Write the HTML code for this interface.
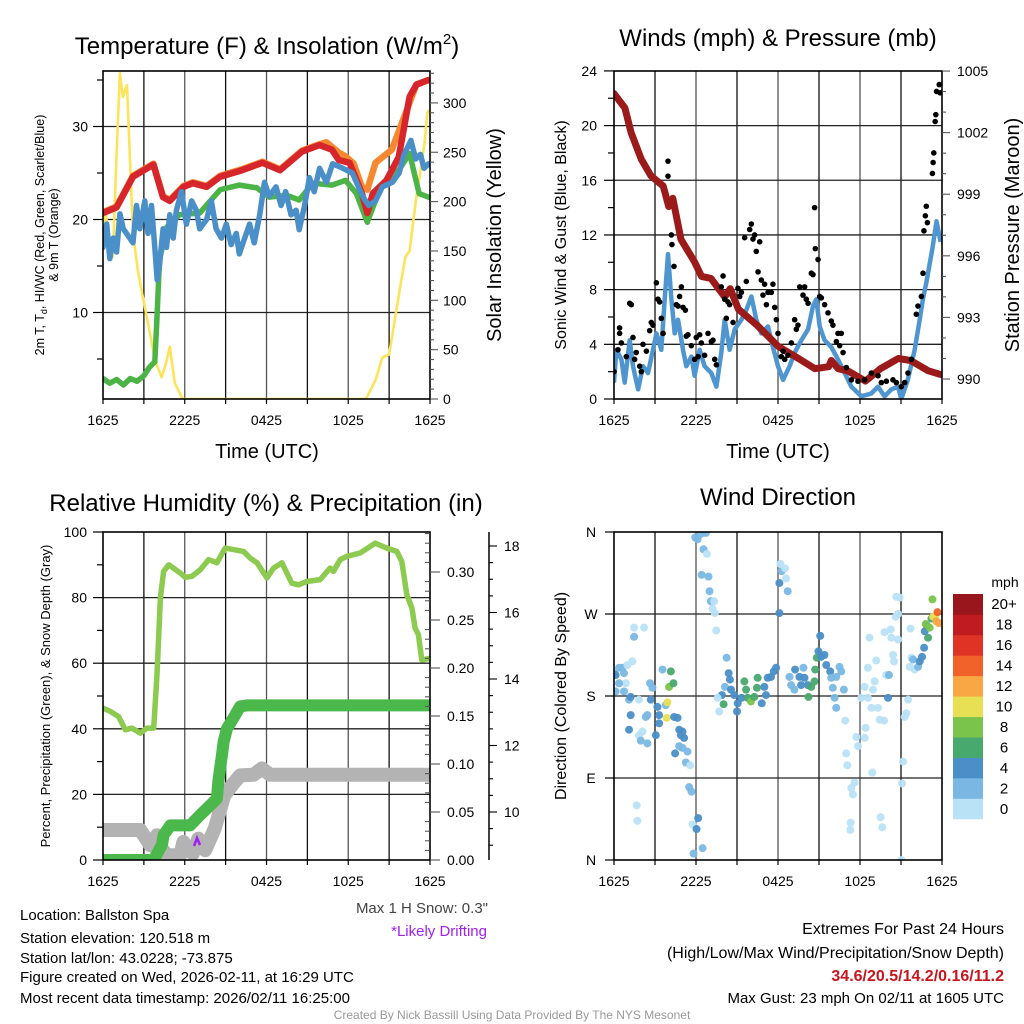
<!DOCTYPE html>
<html><head><meta charset="utf-8"><title>Mesonet Station Summary</title>
<style>
html,body{margin:0;padding:0;background:#fff;}
svg{display:block;font-family:"Liberation Sans",sans-serif;}
</style></head>
<body>
<svg id="fig" xmlns="http://www.w3.org/2000/svg" width="1024" height="1024" viewBox="0 0 1024 1024">
<rect x="0" y="0" width="1024" height="1024" fill="#fff"/>
<defs>
<clipPath id="c1"><rect x="103" y="71" width="327" height="328"/></clipPath>
<clipPath id="c2"><rect x="614" y="71" width="328" height="328"/></clipPath>
<clipPath id="c3"><rect x="103" y="532" width="327" height="328"/></clipPath>
<clipPath id="c4"><rect x="614" y="532" width="328" height="328"/></clipPath>
</defs>
<!-- Titles -->
<text x="267" y="54" font-size="24" text-anchor="middle">Temperature (F) &amp; Insolation (W/m<tspan font-size="15" dy="-10">2</tspan><tspan dy="10">)</tspan></text>
<text x="778" y="46" font-size="24" text-anchor="middle">Winds (mph) &amp; Pressure (mb)</text>
<text x="266" y="511" font-size="24" text-anchor="middle">Relative Humidity (%) &amp; Precipitation (in)</text>
<text x="778" y="505" font-size="24" text-anchor="middle">Wind Direction</text>
<!-- axis titles -->
<text x="267" y="458" font-size="20" text-anchor="middle">Time (UTC)</text>
<text x="778" y="458" font-size="20" text-anchor="middle">Time (UTC)</text>
<text transform="translate(44,235) rotate(-90)" font-size="12.5" text-anchor="middle">2m T, T<tspan font-size="9" dy="3">d</tspan><tspan dy="-3">, HI/WC (Red, Green, Scarlet/Blue)</tspan></text>
<text transform="translate(58,235) rotate(-90)" font-size="12.5" text-anchor="middle">&amp; 9m T (Orange)</text>
<text transform="translate(501,235) rotate(-90)" font-size="20" text-anchor="middle">Solar Insolation (Yellow)</text>
<text transform="translate(566,235) rotate(-90)" font-size="16" text-anchor="middle">Sonic Wind &amp; Gust (Blue, Black)</text>
<text transform="translate(1019,235) rotate(-90)" font-size="20" text-anchor="middle">Station Pressure (Maroon)</text>
<text transform="translate(50,696) rotate(-90)" font-size="13" text-anchor="middle">Percent, Precipitation (Green), &amp; Snow Depth (Gray)</text>
<text transform="translate(566,696) rotate(-90)" font-size="16" text-anchor="middle">Direction (Colored By Speed)</text>
<!-- bottom text -->
<g font-size="15">
<text x="20" y="920">Location: Ballston Spa</text>
<text x="20" y="943">Station elevation: 120.518 m</text>
<text x="20" y="963">Station lat/lon: 43.0228; -73.875</text>
<text x="20" y="982">Figure created on Wed, 2026-02-11, at 16:29 UTC</text>
<text x="20" y="1003">Most recent data timestamp: 2026/02/11 16:25:00</text>
</g>
<text x="488" y="913" font-size="15" fill="#444" text-anchor="end">Max 1 H Snow: 0.3"</text>
<text x="487" y="936" font-size="15" fill="#a020f0" text-anchor="end">*Likely Drifting</text>
<g font-size="16" text-anchor="end">
<text x="1004" y="934">Extremes For Past 24 Hours</text>
<text x="1004" y="958">(High/Low/Max Wind/Precipitation/Snow Depth)</text>
<text x="1004" y="981" fill="#c8161f" font-weight="bold">34.6/20.5/14.2/0.16/11.2</text>
<text x="1004" y="1003" font-size="15">Max Gust: 23 mph On 02/11 at 1605 UTC</text>
</g>
<text x="512" y="1019" font-size="12" fill="#999" text-anchor="middle">Created By Nick Bassill Using Data Provided By The NYS Mesonet</text>
</svg>
<script>
// ---------- Panel 1 data ----------
const tempTimes = [0,1.0,2.2,3.7,4.4,4.9,5.9,6.6,7.6,8.6,10.2,11.7,13.0,14.6,15.9,16.8,17.3,18.1,19.0,19.4,19.8,20.8,21.7,22.5,23.0,23.9];
const tempValues = [20.7,21.3,24.6,25.9,22.4,22.0,23.5,23.9,23.5,24.6,25.3,26.1,25.3,27.3,28.0,27.5,26.4,26.1,22.8,20.7,22.8,24.2,26.7,33.2,34.5,35.0];
const temp9mTimes = [0,1.0,2.2,3.7,4.4,4.9,5.9,6.6,7.6,8.6,10.2,11.7,13.0,14.6,15.9,16.4,17.3,17.8,18.4,19.0,19.4,20.0,21.2,22.2,23.0,23.9];
const temp9mValues = [20.8,21.4,24.7,26.0,22.5,22.1,23.6,24.0,23.6,24.7,25.4,26.2,25.4,27.4,28.1,28.3,27.2,26.8,26.0,23.5,23.2,26.1,27.5,31.4,34.5,35.0];
const dewTimes = [0,0.5,1.0,1.5,2.0,2.5,3.0,3.4,3.8,3.95,4.1,4.2,4.7,5.6,7.1,8.6,10.0,11.3,12.2,13.5,14.4,15.4,16.8,17.8,18.6,19.4,20.3,21.7,22.5,23.2,23.9];
const dewValues = [2.9,2.4,2.8,2.2,2.9,2.6,3.2,4.1,4.7,9.0,14.2,16.0,19.2,20.5,20.7,23.2,23.7,23.4,22.4,22.6,22.1,23.9,23.7,24.2,22.8,19.7,23.2,25.3,27.1,22.8,22.4];
const hiwcTimes = [0,0.27,0.5,0.75,1.0,1.24,1.49,2.2,2.46,2.7,3.07,3.3,3.56,3.8,3.98,4.17,4.41,4.66,4.9,5.15,5.39,5.76,6.12,6.5,6.85,7.1,7.6,7.95,8.3,8.7,9.05,9.4,9.78,10.0,10.4,10.76,11.1,11.5,11.85,12.2,12.7,13.07,13.4,13.8,14.17,14.4,14.8,15.15,15.5,15.9,16.4,16.85,17.6,18.3,19.05,19.5,20.0,20.5,21.24,21.73,22.1,22.6,22.95,23.3,23.56,23.9];
const hiwcValues = [17,19.5,15.8,18,16.5,20.6,19,17.5,21.5,19,22,18.5,21.5,17,13.5,15.5,19,17,20.5,18,21,23,19.5,22,21,19,20,22,19,18,19.5,17.3,18.5,16.3,18,19.5,17.5,20.5,24,22.5,23.5,21.5,23,20.5,21,18.9,21.5,24.5,23,25.5,24,26,25.5,25,22.5,21.5,22,23.5,24,25,27,28.5,26.5,27,25.5,26];
const solarTimes = [0,0.2,0.5,0.73,0.95,1.24,1.46,1.76,1.98,2.2,2.56,2.93,3.44,3.8,4.3,4.6,4.9,5.27,5.85,12,19.3,20.0,20.5,21.0,21.5,21.9,22.2,22.5,22.6,23.0,23.2,23.6,23.8,23.93];
const solarValues = [175,190,150,144,230,330,306,318,242,168,130,103,67,40,22,35,53,16,0,0,0,19,42,45,87,121,144,150,161,205,222,260,290,293];
const tempTicks = [10,20,30];
const solarTicks = [0,50,100,150,200,250,300];
const timeTickLabels = ["1625","2225","0425","1025","1625"];
// ---------- Panel 2 data ----------
const windTimes = [0,0.17,0.54,0.78,1.15,1.39,1.76,2.12,2.49,2.85,3.10,3.46,3.71,3.95,4.20,4.44,4.68,5.05,5.29,5.66,5.90,6.27,6.63,7.12,7.49,7.85,8.10,8.46,8.83,9.32,9.68,10.05,10.41,10.78,11.27,11.63,12.0,12.37,12.85,13.22,13.71,14.2,14.56,14.8,15.05,15.41,15.9,16.39,16.88,17.37,18.1,18.83,19.32,19.8,20.29,20.78,21.02,21.5,22.0,22.37,22.6,22.85,23.3,23.6,23.9];
const windValues = [1.2,3.6,2.9,1.2,4.3,2.4,0.7,2.4,1.9,3.6,4.8,3.6,7.3,10.6,7.3,4.8,5.8,3.6,2.4,3.1,1.7,3.6,2.4,1.9,0.9,3.4,5.8,3.6,5.1,5.8,6.5,7.5,5.8,4.8,5.3,3.8,2.4,1.4,2.4,3.4,4.3,5.1,6.8,7.3,5.3,4.3,3.8,2.9,1.9,0.9,0.2,0.4,0.9,0.2,0.7,0.9,0,1.4,3.6,5.8,7.3,8.5,11,13,11.5];
const gustTimes = [0,0.29,0.41,0.41,0.54,0.9,1.15,1.27,1.39,1.51,1.63,1.88,2.0,2.12,2.37,2.61,2.73,2.85,3.1,3.22,3.34,3.46,3.59,3.95,3.95,4.2,4.24,4.39,4.56,4.68,4.8,4.93,5.05,5.22,5.29,5.41,5.66,5.9,6.02,6.15,6.27,6.39,6.63,6.88,7.12,7.24,7.37,7.49,7.85,7.98,8.1,8.22,8.34,8.46,8.71,9.07,9.2,9.32,9.56,9.68,9.93,10.05,10.17,10.29,10.41,10.54,10.66,10.78,10.9,11.02,11.15,11.27,11.51,11.63,11.76,11.88,12.0,12.24,12.37,12.49,12.73,12.98,13.22,13.34,13.46,13.59,13.83,13.95,14.07,14.2,14.44,14.56,14.68,14.73,14.93,15.05,15.17,15.41,15.66,15.9,16.02,16.27,16.39,16.51,16.63,16.76,17.0,17.37,17.85,18.34,18.83,19.32,19.56,19.93,20.41,20.66,21.02,21.27,21.51,21.76,22.12,22.24,22.49,22.61,22.68,22.78,22.85,22.93,23.3,23.35,23.4,23.5,23.55,23.6,23.8,23.85];
const gustValues = [2.0,3.6,4.8,5.2,4.1,3.1,7.0,6.9,4.5,2.9,3.4,2.4,2.0,4.0,3.5,5.0,5.6,5.4,8.5,7.3,7.1,5.9,4.8,17.4,16.3,12.0,11.3,9.7,6.9,6.8,7.5,8.2,6.7,6.5,4.6,4.7,3.9,2.9,4.5,3.1,4.7,4.1,3.2,4.8,4.2,4.3,2.9,2.5,8.2,9.0,7.3,5.9,7.1,6.9,5.6,8.1,7.5,7.8,11.8,8.6,12.4,12.8,11.7,12.0,10.8,9.3,11.5,8.7,7.6,8.4,6.9,7.8,7.8,8.4,6.7,5.8,4.8,3.1,3.5,2.9,3.2,4.1,5.8,5.1,5.4,8.2,7.6,8.2,7.3,7.0,9.2,9.1,14.0,11.0,10.2,7.5,7.4,6.9,6.3,5.7,5.4,4.2,4.8,3.9,4.8,3.4,2.3,1.4,1.3,1.4,1.9,1.7,1.2,1.3,1.4,1.2,0.9,1.2,1.9,2.9,6.2,6.8,7.5,9.2,12.3,13.4,14.1,12.9,16.5,17.3,18,20.3,20.8,22.5,23,22.4];
const pressTimes = [0,0.8,1.25,2.0,2.7,3.6,4.0,4.3,4.9,5.9,6.4,7.1,8.1,8.5,9.1,10.5,12.0,13.5,14.7,15.7,15.9,16.4,17.1,18.4,19.5,20.8,21.7,23.0,24.0];
const pressValues = [1003.9,1003.2,1002.0,1000.7,999.9,999.4,998.4,998.8,996.8,995.7,995.0,994.9,994.0,994.4,993.4,992.6,991.6,991.0,990.5,990.6,990.9,990.5,990.4,989.9,990.5,991.0,990.9,990.4,990.2];
const windTicks = [0,4,8,12,16,20,24];
const pressTicks = [990,993,996,999,1002,1005];
// ---------- Panel 3 data ----------
const rhTimes = [0,0.54,1.15,1.64,2.13,2.74,3.23,3.72,3.96,4.21,4.45,4.82,5.67,6.04,6.53,7.14,7.75,8.36,8.97,10.32,10.81,11.3,12.03,12.52,13.13,13.86,14.35,14.96,15.94,16.67,16.92,17.41,17.9,18.88,19.98,20.83,21.56,21.93,22.3,22.67,22.91,23.15,23.4,24];
const rhValues = [46.3,45.3,43.7,39.7,40.2,38.7,40.2,40.2,56.5,79.9,88,90,87.5,86.2,86.5,88.5,91.6,90.6,95.1,94.1,92,90.6,86,89,90.6,84.4,83.9,84.9,85.5,89,88,91.6,92.6,93.6,96.6,95.1,94.1,91,80.9,76.8,70.7,68.7,61,61.5];
const precipTimes = [0,3.72,4.33,4.45,4.94,6.4,7.14,7.87,8.36,8.48,8.73,8.85,9.1,9.58,10.07,10.56,24];
const precipValues = [0,0,0.016,0.026,0.036,0.036,0.047,0.057,0.064,0.083,0.109,0.123,0.137,0.148,0.16,0.161,0.161];
const snowTimes = [0,2.74,3.47,3.96,4.3,4.7,5.67,5.9,6.2,6.6,7.0,7.5,8.2,8.9,9.58,10.07,11.05,11.66,12.27,24];
const snowValues = [9.46,9.46,9.0,9.3,8.9,8.7,8.7,9.1,8.9,8.75,9.2,8.85,9.5,10.5,10.86,11.1,11.12,11.31,11.12,11.12];
const rhTicks = [0,20,40,60,80,100];
const precipTicks = [0,0.05,0.10,0.15,0.20,0.25,0.30];
const snowTicks = [10,12,14,16,18];
// ---------- Panel 4 data ----------
const dirTimes = [0,0.12,0.37,0.61,0.73,0.98,1.34,0.86,0.37,0.12,0.73,1.1,1.22,1.83,1.47,2.2,1.47,1.22,1.1,1.83,2.08,1.96,2.44,2.32,2.44,2.69,2.64,2.81,3.06,3.18,3.3,3.3,3.55,3.79,4.03,4.16,4.35,3.91,3.86,4.4,4.65,4.77,4.89,5.01,5.13,4.77,4.47,5.01,5.38,5.26,5.57,5.5,5.67,1.66,1.71,5.75,6.04,6.16,5.82,6.48,5.94,6.11,6.36,6.72,6.55,6.8,6.41,6.92,6.99,7.09,7.33,7.21,7.38,7.48,8.24,8.12,8.39,8.48,7.9,8.02,7.58,7.7,8.56,8.8,9.0,9.05,9.34,9.54,9.66,9.78,10.02,10.27,10.51,10.46,10.81,11.0,11.12,11.25,11.49,11.69,11.86,12.1,12.1,12.27,12.18,12.52,12.59,12.71,12.84,12.96,13.2,13.25,13.57,13.69,13.86,13.94,14.18,14.23,14.43,14.67,14.72,14.84,14.96,15.09,15.16,15.4,15.53,15.82,15.89,16.01,16.26,16.5,16.63,16.82,16.14,16.26,16.92,16.99,17.07,17.36,17.48,17.6,17.31,17.29,17.73,17.85,18.34,18.41,18.09,18.34,18.58,18.83,18.95,19.07,19.19,19.32,19.44,19.76,18.58,18.7,19.8,20.24,20.29,20.78,20.42,20.49,19.93,20.12,20.05,18.9,19.51,19.63,21.03,21.08,21.15,21.27,21.39,21.52,20.66,20.9,20.61,20.78,21.69,21.76,21.64,22.0,21.88,22.25,22.37,22.54,22.69,22.74,22.86,22.98,23.1,22.81,23.23,23.3,23.35,23.52,23.67,23.59,23.77];
const dirDegrees = [205,203,211,211,205,214,218,194,194,185,185,176,179,176,255,255,245,159,143,137,141,131,128,157,159,176,194,189,137,168,159,150,209,170,190,207,194,173,156,157,156,143,137,141,134,125,117,123,119,107,104,80,75,60,43,39,34,46,7,13,354,352,358,359,341,336,313,311,295,284,284,276,271,252,222,190,205,198,181,171,178,163,187,181,163,172,178,196,187,178,174,179,200,189,172,190,181,200,201,207,211,271,304,317,325,320,309,295,201,192,187,209,201,192,211,200,192,179,190,196,209,222,229,246,223,225,214,207,200,189,201,212,207,187,178,167,153,117,104,79,72,85,41,33,135,125,134,145,178,190,178,167,187,196,219,167,154,153,211,244,250,253,244,242,225,218,203,203,178,96,47,36,0,84,108,157,161,176,289,288,267,270,254,222,212,209,220,212,218,223,233,251,258,244,255,259,265,286,267,268,272,262,260];
const dirSpeeds = [3,5,3,3,3,1,1,1,3,3,3,3,5,1,1,1,3,5,5,1,1,3,3,3,3,5,3,3,5,5,5,5,3,3,9,7,7,11,11,5,5,5,5,5,5,3,5,3,3,3,1,3,3,1,1,1,5,5,3,3,3,3,3,3,3,1,3,3,3,3,1,1,1,1,3,3,5,5,5,7,1,1,5,5,5,5,5,7,7,7,9,7,7,7,5,5,5,5,5,5,5,5,5,3,1,1,1,3,3,3,3,5,5,5,3,5,5,7,7,7,7,7,5,5,5,5,5,5,3,3,3,3,3,3,3,3,1,1,1,1,1,1,1,1,1,1,1,1,1,1,1,1,1,1,1,1,1,1,1,1,1,1,1,1,1,1,1,3,5,1,1,1,1,1,1,1,1,1,1,1,1,1,1,1,1,1,3,3,5,5,5,5,5,7,9,9,7,9,11,11,15,13,13,7];
const dirTickLabels = ["N","E","S","W","N"];
const speedBinLabels = ["0","2","4","6","8","10","12","14","16","18","20+"];
const speedBinColors = ["#b9e2f7","#7ab8e3","#4a8fc8","#48a96e","#7ac44c","#e7e055","#f9a644","#f1622a","#df3326","#c11b22","#99161c"];

// ---------- scales ----------
const x1 = t => 103 + t * 327 / 24;
const x2 = t => 614 + t * 328 / 24;
const yT = v => 405.5 - v * 9.3;
const yS = v => 399 - v * 0.987;
const yW = v => 399 - v * 13.67;
const yP = v => 379 - (v - 990) * 20.53;
const yRH = v => 860 - v * 3.28;
const yPr = v => 860 - v * 960;
const ySn = v => 812 - (v - 10) * 33.25;
const yD = v => 860 - v * 328 / 360;

const NS = "http://www.w3.org/2000/svg";
const svg = document.getElementById("fig");
function mk(tag, attrs, parent) {
  const e = document.createElementNS(NS, tag);
  for (const k in attrs) e.setAttribute(k, attrs[k]);
  (parent || svg).appendChild(e);
  return e;
}
function line(x1_, y1_, x2_, y2_, stroke, w, parent) {
  return mk("line", {x1: x1_, y1: y1_, x2: x2_, y2: y2_, stroke: stroke, "stroke-width": w}, parent);
}
function txt(x, y, s, size, anchor, parent) {
  const e = mk("text", {x: x, y: y, "font-size": size, "text-anchor": anchor}, parent);
  e.textContent = s;
  return e;
}
function pathD(ts, vs, fx, fy) {
  return ts.map((t, i) => (i ? "L" : "M") + fx(t).toFixed(1) + "," + fy(vs[i]).toFixed(1)).join(" ");
}

// ---------- frames / grids ----------
function grid(panel, X, top, bot, left, right, hy) {
  const g = mk("g", {});
  
  
  for (let h = 3; h < 24; h += 3) line(X(h), top, X(h), bot, (h % 6 === 0) ? "#555" : "#111", 1.3, g);
  hy.forEach(y => line(left, y, right, y, "#222", 1.3, g));
  return g;
}
function frame(panel, left, top, right, bot) {
  const r = mk("rect", {x: left, y: top, width: right - left, height: bot - top, fill: "none", stroke: "#000", "stroke-width": 1.6});
  
  
}
function xAxis(panel, X, bot) {
  const g = mk("g", {});
  
  
  for (let h = 0; h <= 24; h += 3) line(X(h), bot, X(h), bot + 5, "#000", 1.2, g);
  timeTickLabels.forEach((s, i) => txt(X(i * 6), bot + 26, s, 14, "middle", g));
}

// Panel 1
grid("temperature", x1, 71, 399, 103, 430, tempTicks.map(yT));
// Panel 2
grid("wind", x2, 71, 399, 614, 942, windTicks.slice(1, 6).map(yW));
// Panel 3
grid("humidity", x1, 532, 860, 103, 430, rhTicks.slice(1, 5).map(yRH));
// Panel 4
grid("direction", x2, 532, 860, 614, 942, [90, 180, 270].map(yD));

// ---------- Panel 1 series ----------
const p1 = mk("g", {"clip-path": "url(#c1)"});
let e;
e = mk("path", {d: pathD(solarTimes, solarValues, x1, yS), fill: "none", stroke: "#fde35a", "stroke-width": 2.6, "stroke-linejoin": "round"}, p1);


e = mk("path", {d: pathD(dewTimes, dewValues, x1, yT), fill: "none", stroke: "#4cb447", "stroke-width": 5.5, "stroke-linejoin": "round", "stroke-linecap": "round"}, p1);


e = mk("path", {d: pathD(temp9mTimes, temp9mValues, x1, yT), fill: "none", stroke: "#f6892f", "stroke-width": 6.5, "stroke-linejoin": "round", "stroke-linecap": "round"}, p1);


e = mk("path", {d: pathD(tempTimes, tempValues, x1, yT), fill: "none", stroke: "#d7262b", "stroke-width": 6.5, "stroke-linejoin": "round", "stroke-linecap": "round"}, p1);


e = mk("path", {d: pathD(hiwcTimes, hiwcValues, x1, yT), fill: "none", stroke: "#4a8fc8", "stroke-width": 5.5, "stroke-linejoin": "round", "stroke-linecap": "round"}, p1);


frame("temperature", 103, 71, 430, 399);
// axes panel 1
let g = mk("g", {});


for (let v = 5; v <= 35; v += 5) line(103, yT(v), v % 10 === 0 ? 93 : 97, yT(v), "#000", 1.2, g);
tempTicks.forEach(v => txt(88, yT(v) + 5, String(v), 14, "end", g));
g = mk("g", {});


for (let v = 0; v <= 330; v += 10) line(430, yS(v), v % 50 === 0 ? 438 : 434, yS(v), "#555", 1.1, g);
solarTicks.forEach(v => txt(443, yS(v) + 5, String(v), 14, "start", g));
xAxis("temperature", x1, 399);

// ---------- Panel 2 series ----------
const p2 = mk("g", {"clip-path": "url(#c2)"});
e = mk("path", {d: pathD(windTimes, windValues, x2, yW), fill: "none", stroke: "#4f96d0", "stroke-width": 4.5, "stroke-linejoin": "round"}, p2);


e = mk("path", {d: pathD(pressTimes, pressValues, x2, yP), fill: "none", stroke: "#9b1b1b", "stroke-width": 7, "stroke-linejoin": "round", "stroke-linecap": "round"}, p2);


gustTimes.forEach((t, i) => {
  const c = mk("circle", {cx: x2(t), cy: yW(gustValues[i]), r: 2.8, fill: "#000"}, p2);
  
  
});
frame("wind", 614, 71, 942, 399);
g = mk("g", {});


for (let v = 0; v <= 24; v += 2) line(614, yW(v), v % 4 === 0 ? 604 : 608, yW(v), "#000", 1.2, g);
windTicks.forEach(v => txt(597, yW(v) + 5, String(v), 14, "end", g));
g = mk("g", {});


for (let v = 990; v <= 1005; v += 1) line(942, yP(v), (v % 3 === 0) ? 950 : 946, yP(v), "#555", 1.1, g);
pressTicks.forEach(v => txt(957, yP(v) + 5, String(v), 14, "start", g));
xAxis("wind", x2, 399);

// ---------- Panel 3 series ----------
const p3 = mk("g", {"clip-path": "url(#c3)"});
e = mk("path", {d: pathD(snowTimes, snowValues, x1, ySn), fill: "none", stroke: "#b3b3b3", "stroke-width": 14, "stroke-linejoin": "round", "stroke-linecap": "round"}, p3);


e = mk("path", {d: pathD(rhTimes, rhValues, x1, yRH), fill: "none", stroke: "#8ccb4f", "stroke-width": 5.5, "stroke-linejoin": "round", "stroke-linecap": "round"}, p3);


e = mk("path", {d: pathD(precipTimes, precipValues, x1, yPr), fill: "none", stroke: "#4ab84a", "stroke-width": 12, "stroke-linejoin": "round", "stroke-linecap": "round"}, p3);


e = mk("path", {d: "M194,846 L197,838 L200,845", fill: "none", stroke: "#a020f0", "stroke-width": 2.5}, p3);


frame("humidity", 103, 532, 430, 860);
g = mk("g", {});


for (let v = 0; v <= 100; v += 10) line(103, yRH(v), v % 20 === 0 ? 93 : 97, yRH(v), "#000", 1.2, g);
rhTicks.forEach(v => txt(87, yRH(v) + 5, String(v), 14, "end", g));
g = mk("g", {});


for (let i = 0; i <= 34; i++) line(430, yPr(i / 100), i % 5 === 0 ? 440 : 425, yPr(i / 100), "#555", 1.1, g);
precipTicks.forEach(v => txt(447, yPr(v) + 5, v.toFixed(2), 14, "start", g));
g = mk("g", {});


line(489, 532, 489, 860, "#000", 1.5, g);
for (let v = 9; v <= 18; v += 0.5) line(489, ySn(v), v % 2 === 0 ? 497 : 493, ySn(v), "#000", 1.1, g);
snowTicks.forEach(v => txt(504, ySn(v) + 5, String(v), 14, "start", g));
xAxis("humidity", x1, 860);

// ---------- Panel 4 ----------
const p4 = mk("g", {"clip-path": "url(#c4)"});
dirTimes.forEach((t, i) => {
  const bin = Math.min(10, Math.floor(dirSpeeds[i] / 2));
  const c = mk("circle", {cx: x2(t), cy: yD(dirDegrees[i]), r: 4, fill: speedBinColors[bin], "fill-opacity": 0.95}, p4);
  
  
});
frame("direction", 614, 532, 942, 860);
g = mk("g", {});


dirTickLabels.forEach((s, i) => {
  line(614, yD(i * 90), 605, yD(i * 90), "#000", 1.2, g);
  txt(591, yD(i * 90) + 5, s, 14, "middle", g);
});
xAxis("direction", x2, 860);
// colorbar
g = mk("g", {});


const cbTop = 594, cbH = 225 / 11;
speedBinLabels.forEach((s, i) => {
  const k = 10 - i;
  const y = cbTop + k * cbH;
  const r = mk("rect", {x: 953, y: y, width: 30, height: cbH + 0.3, fill: speedBinColors[i]}, g);
  
  
  txt(1004, y + cbH / 2 + 5, s, 15, "middle", g);
});
txt(1005, 587, "mph", 14, "middle", g);
</script>
</body></html>
